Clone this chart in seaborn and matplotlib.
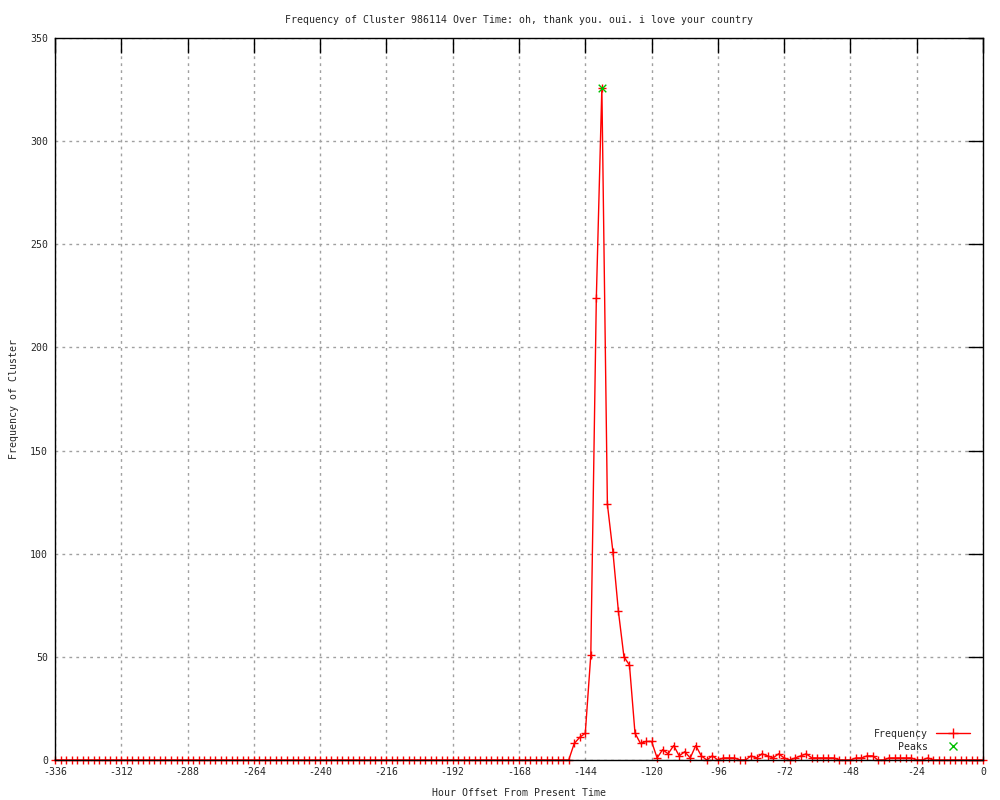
import matplotlib
matplotlib.use("Agg")
import matplotlib.pyplot as plt
from matplotlib.lines import Line2D
import seaborn as sns
import numpy as np

# ---- data ----
hours = list(range(-336, 1, 2))
frequency = [
    0, 0, 0, 0, 0, 0, 0, 0, 0, 0,
    0, 0, 0, 0, 0, 0, 0, 0, 0, 0,
    0, 0, 0, 0, 0, 0, 0, 0, 0, 0,
    0, 0, 0, 0, 0, 0, 0, 0, 0, 0,
    0, 0, 0, 0, 0, 0, 0, 0, 0, 0,
    0, 0, 0, 0, 0, 0, 0, 0, 0, 0,
    0, 0, 0, 0, 0, 0, 0, 0, 0, 0,
    0, 0, 0, 0, 0, 0, 0, 0, 0, 0,
    0, 0, 0, 0, 0, 0, 0, 0, 0, 0,
    0, 0, 0, 0,                      # -336 .. -150
    8, 11, 13, 51, 224, 326, 124, 101, 72, 50,   # -148 .. -130
    46, 13, 8, 9, 9, 1, 5, 3, 7, 2,              # -128 .. -110
    4, 1, 7, 2, 0, 2, 0, 1, 1, 1,                # -108 .. -90
    0, 0, 2, 1, 3, 2, 1, 3, 1, 0,                # -88 .. -70
    1, 2, 3, 1, 1, 1, 1, 1, 0, 0,                # -68 .. -50
    0, 1, 1, 2, 2, 0, 0, 1, 1, 1,                # -48 .. -30
    1, 1, 0, 0, 1, 0, 0, 0, 0, 0,                # -28 .. -10
    0, 0, 0, 0, 0,                               # -8 .. 0
]
peak_hours = [-138]
peak_values = [326]

x_ticks = list(range(-336, 1, 24))
y_ticks = list(range(0, 351, 50))

title = "Frequency of Cluster 986114 Over Time: oh, thank you. oui. i love your country"
x_label = "Hour Offset From Present Time"
y_label = "Frequency of Cluster"

# ---- style ----
sns.set_style("white")
plt.rcParams["font.family"] = ["DejaVu Sans Mono", "DejaVu Sans"]
plt.rcParams["axes.unicode_minus"] = False
FS = 7.1

fig = plt.figure(figsize=(10, 8), dpi=100)
ax = fig.add_axes([0.055, 0.05, 0.928, 0.9025])

sns.lineplot(x=hours, y=frequency, ax=ax, color="#ff0000", linewidth=1.0,
             marker="+", markersize=6, markeredgewidth=1.0,
             markeredgecolor="#ff0000", legend=False, clip_on=False, zorder=2)
sns.scatterplot(x=peak_hours, y=peak_values, ax=ax, marker="x", color="#00c000",
                s=30, linewidth=1.0, legend=False, zorder=5)

ax.set_xlim(-336, 0)
ax.set_ylim(0, 350)
ax.set_xticks(x_ticks)
ax.set_yticks(y_ticks)
ax.set_xticklabels([str(v) for v in x_ticks], fontsize=FS)
ax.set_yticklabels([str(v) for v in y_ticks], fontsize=FS)
ax.tick_params(axis="both", which="major", direction="in", length=11, width=1,
               color="black", top=True, right=True, pad=5)
ax.grid(True, color="#a0a0a0", linestyle=(0, (2, 3)), linewidth=1.0)
ax.set_axisbelow(True)
for s in ax.spines.values():
    s.set_color("black")
    s.set_linewidth(1.0)
    s.set_zorder(3)

ax.set_title(title, fontsize=FS, pad=11)
ax.set_xlabel(x_label, fontsize=FS, labelpad=8)
ax.set_ylabel(y_label, fontsize=FS, labelpad=8)

handles = [
    Line2D([0], [0], color="#ff0000", linewidth=1.0, marker="+", markersize=7,
           markeredgewidth=1.0, markevery=[1]),
    Line2D([0], [0], color="#00c000", linestyle="none", marker="x", markersize=6,
           markeredgewidth=1.0),
]
ax.legend(handles, ["Frequency", "Peaks"], loc="lower right", frameon=False,
          markerfirst=False, fontsize=FS, handlelength=3.4, labelspacing=0.3,
          borderaxespad=0.0, handletextpad=0.8, bbox_to_anchor=(0.99, 0.006))

fig.savefig("out.png", dpi=100)
